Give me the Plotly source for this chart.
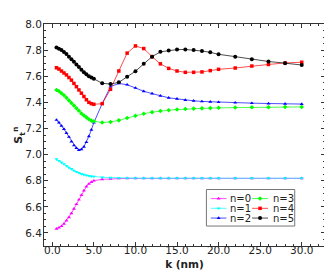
import plotly.graph_objects as go

k = [0.5, 0.8, 1.1, 1.4, 1.7, 2.0, 2.3, 2.6, 2.9, 3.2, 3.5, 3.8, 4.1, 4.4, 4.7, 5.0,
     6, 7, 8, 9, 10, 11, 12, 13, 14, 15, 16, 17, 18, 19, 20, 22, 24, 26, 28, 30]

n0 = [6.432, 6.44, 6.452, 6.47, 6.495, 6.52, 6.55, 6.585, 6.62, 6.655, 6.69, 6.725, 6.755, 6.775, 6.79, 6.80,
      6.811, 6.815, 6.817, 6.818, 6.818, 6.818, 6.818, 6.818, 6.818, 6.818, 6.818, 6.818, 6.818, 6.818, 6.818,
      6.818, 6.818, 6.818, 6.818, 6.818]
n1 = [6.965, 6.952, 6.94, 6.927, 6.914, 6.90, 6.89, 6.878, 6.868, 6.86, 6.852, 6.846, 6.841, 6.837, 6.834, 6.832,
      6.826, 6.823, 6.821, 6.82, 6.819, 6.819, 6.819, 6.819, 6.819, 6.819, 6.819, 6.819, 6.819, 6.819, 6.819,
      6.819, 6.819, 6.819, 6.819, 6.819]
n2 = [7.265, 7.245, 7.22, 7.195, 7.165, 7.135, 7.10, 7.07, 7.05, 7.035, 7.04, 7.06, 7.095, 7.14, 7.19, 7.245,
      7.39, 7.52, 7.545, 7.535, 7.51, 7.485, 7.467, 7.45, 7.435, 7.427, 7.418, 7.412, 7.407, 7.404, 7.401,
      7.397, 7.394, 7.391, 7.389, 7.387]
n3 = [7.495, 7.485, 7.47, 7.455, 7.435, 7.415, 7.395, 7.375, 7.355, 7.335, 7.315, 7.30, 7.285, 7.27, 7.26, 7.255,
      7.245, 7.25, 7.262, 7.28, 7.298, 7.313, 7.325, 7.334, 7.34, 7.345, 7.349, 7.352, 7.354, 7.356, 7.358,
      7.36, 7.362, 7.363, 7.364, 7.365]
n4 = [7.665, 7.655, 7.64, 7.625, 7.61, 7.59, 7.57, 7.545, 7.52, 7.495, 7.47, 7.445, 7.42, 7.40, 7.39, 7.385,
      7.39, 7.50, 7.64, 7.777, 7.832, 7.812, 7.75, 7.695, 7.66, 7.64, 7.63, 7.63, 7.633, 7.643, 7.653,
      7.663, 7.678, 7.69, 7.702, 7.707]
n5 = [7.82, 7.81, 7.80, 7.785, 7.77, 7.75, 7.73, 7.71, 7.69, 7.67, 7.65, 7.63, 7.615, 7.60, 7.59, 7.58,
      7.546, 7.54, 7.553, 7.596, 7.638, 7.695, 7.75, 7.787, 7.798, 7.804, 7.805, 7.80, 7.793, 7.783, 7.768,
      7.75, 7.73, 7.713, 7.70, 7.686]

names = ["n=0", "n=1", "n=2", "n=3", "n=4", "n=5"]
series = [n0, n1, n2, n3, n4, n5]
colors = ["#ff00ff", "#00ffff", "#0000ff", "#00ff00", "#ff0000", "#000000"]
symbols = ["triangle-up", "triangle-down", "triangle-up", "diamond", "square", "circle"]
msizes = [3.5, 3.5, 3.5, 3.5, 3.5, 4]

FONT = "DejaVu Sans"
fig = go.Figure()
for nm, ys, c, s, ms in zip(names, series, colors, symbols, msizes):
    fig.add_trace(go.Scatter(x=k, y=ys, mode="lines+markers", name=nm,
                             line=dict(color=c, width=0.7),
                             marker=dict(color=c, symbol=s, size=ms, line=dict(width=0)),
                             showlegend=False))

# Legend drawn on an overlay axis in pixel coordinates
L, R, T, B = 35.7, 317.0, 10.0, 238.0
cols = [(202.7, 218.3, 220.0), (244.0, 260.0, 262.7)]
rows = [189.3, 199.3, 209.3]
for i, (nm, c, s, ms) in enumerate(zip(names, colors, symbols, msizes)):
    x0, x1, xt = cols[i // 3]
    yy = rows[i % 3]
    fig.add_trace(go.Scatter(x=[x0, (x0 + x1) / 2, x1], y=[yy, yy, yy], mode="lines",
                             line=dict(color=c, width=0.7), xaxis="x2", yaxis="y2",
                             showlegend=False, hoverinfo="skip"))
    fig.add_trace(go.Scatter(x=[(x0 + x1) / 2], y=[yy], mode="markers",
                             marker=dict(color=c, symbol=s, size=ms, line=dict(width=0)),
                             xaxis="x2", yaxis="y2", showlegend=False, hoverinfo="skip"))
    fig.add_annotation(x=xt, y=yy, xref="x2", yref="y2", text=nm, showarrow=False,
                       xanchor="left", yanchor="middle", font=dict(family=FONT, size=10, color="#222"))
fig.add_shape(type="rect", xref="x2", yref="y2", x0=198.3, x1=286.7, y0=180.0, y1=217.5,
              line=dict(color="#777", width=1), fillcolor="rgba(0,0,0,0)")

fig.add_annotation(xref="paper", yref="paper", x=-0.09, y=0.5, textangle=-90,
                   text="<b>S<sub>t</sub><sup>n</sup></b>", showarrow=False,
                   xanchor="center", yanchor="middle", font=dict(family=FONT, size=11, color="#222"))

axis_common = dict(showline=True, linecolor="#333", linewidth=1, mirror="ticks", ticks="inside",
                   ticklen=4, tickwidth=1, tickcolor="#333", showgrid=False, zeroline=False,
                   tickfont=dict(family=FONT, size=10.5, color="#222"))
fig.update_layout(
    width=332, height=273, margin=dict(l=36, r=15, t=10, b=35),
    paper_bgcolor="white", plot_bgcolor="white",
    xaxis=dict(range=[-1, 32.8], dtick=5, tick0=0, tickformat=".1f", ticklabelstandoff=-6,
               minor=dict(dtick=1, ticks="inside", ticklen=2, tickcolor="#333"),
               title=dict(text="<b>k (nm)</b>", font=dict(family=FONT, size=10.5, color="#222"), standoff=6),
               **axis_common),
    yaxis=dict(range=[6.3, 8.0], dtick=0.2, tick0=0, tickformat=".1f", ticklabelstandoff=-1,
               minor=dict(dtick=0.05, ticks="inside", ticklen=2, tickcolor="#333"),
               **axis_common),
    xaxis2=dict(range=[L, R], overlaying="x", visible=False, domain=[0, 1]),
    yaxis2=dict(range=[B, T], overlaying="y", visible=False),
    showlegend=False,
)
fig.write_html("out.html")
